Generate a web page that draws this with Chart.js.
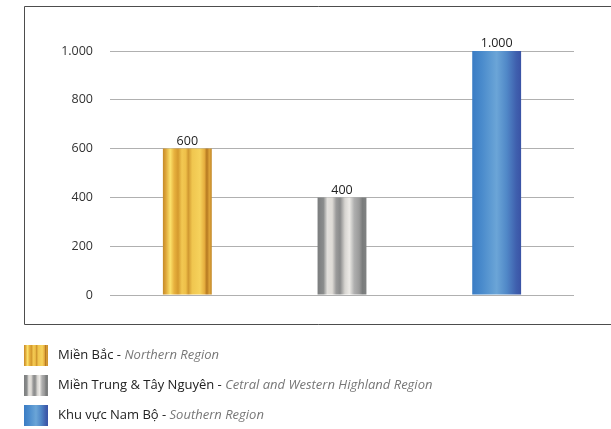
<!DOCTYPE html>
<html>
<head>
<meta charset="utf-8">
<script src="https://cdn.jsdelivr.net/npm/chart.js@4/dist/chart.umd.min.js"></script>
<style>
  html, body { margin: 0; padding: 0; background: #fff; }
  #wrap { position: relative; width: 611px; height: 429px; }
</style>
</head>
<body>
<div id="wrap"><canvas id="regionChart" width="611" height="429"></canvas></div>
<script>
// Dữ liệu theo vùng
const regions = ["Miền Bắc", "Miền Trung & Tây Nguyên", "Khu vực Nam Bộ"];
const regionsEn = ["Northern Region", "Cetral and Western Highland Region", "Southern Region"];
const values = [600, 400, 1000];
const yTicks = [0, 200, 400, 600, 800, 1000];

const FONT = "'Open Sans', sans-serif";

// Dải màu cho từng cột (vàng, bạc, xanh)
const gradientStops = [
  [[0, "#c48a28"], [0.06, "#dea63a"], [0.15, "#fbe26c"], [0.23, "#e8b23e"], [0.31, "#d49a2e"],
   [0.39, "#f2c852"], [0.47, "#eebf48"], [0.52, "#d09830"], [0.6, "#f0c64f"], [0.76, "#f6d25c"],
   [0.85, "#e6ae3e"], [0.9, "#b57820"], [0.95, "#dea43a"], [1, "#c28828"]],
  [[0, "#7b7d7e"], [0.12, "#8a8c8c"], [0.2, "#e2e0dc"], [0.3, "#dedbd6"], [0.38, "#9a9a9a"],
   [0.46, "#898a8a"], [0.56, "#d6d4d0"], [0.65, "#eceae6"], [0.75, "#afafaf"], [0.85, "#9a9a9a"],
   [0.92, "#7a7c7c"], [1, "#808282"]],
  [[0, "#3a7cc4"], [0.2, "#4a8bcc"], [0.5, "#6ba5d7"], [0.7, "#5189c8"], [0.9, "#3f60ae"], [1, "#3a53a5"]]
];

const BAR_PCT = 0.316;

function makeGradient(ctx, x0, x1, stops) {
  const g = ctx.createLinearGradient(x0, 0, x1, 0);
  stops.forEach(s => g.addColorStop(s[0], s[1]));
  return g;
}

function barFill(context) {
  const chart = context.chart;
  const i = context.dataIndex;
  const stops = gradientStops[i];
  if (!chart.chartArea || !chart.scales.x) return stops[0][1];
  const x = chart.scales.x;
  const cx = x.getPixelForValue(i);
  const w = (x.width / regions.length) * BAR_PCT;
  return makeGradient(chart.ctx, cx - w / 2, cx + w / 2, stops);
}

function fmt(v) {
  return v.toLocaleString("de-DE");
}

// Khung, nhãn giá trị và chú thích
const decorPlugin = {
  id: "decor",
  beforeDraw(chart) {
    const ctx = chart.ctx;
    ctx.save();
    ctx.strokeStyle = "#4d4d4d";
    ctx.lineWidth = 1;
    ctx.beginPath();
    ctx.moveTo(chart.width + 2, 6.5);
    ctx.lineTo(24.5, 6.5);
    ctx.lineTo(24.5, 324.5);
    ctx.lineTo(chart.width + 2, 324.5);
    ctx.stroke();
    ctx.restore();
  },
  afterDraw(chart) {
    const ctx = chart.ctx;
    ctx.save();
    // nhãn trên đầu cột
    const meta = chart.getDatasetMeta(0);
    ctx.font = "12.5px " + FONT;
    ctx.fillStyle = "#222";
    ctx.textAlign = "center";
    ctx.textBaseline = "bottom";
    meta.data.forEach((bar, i) => {
      ctx.fillText(fmt(values[i]), bar.x, bar.y - 1);
    });

    // chú thích
    ctx.textAlign = "left";
    ctx.textBaseline = "middle";
    regions.forEach((name, i) => {
      const cy = 355 + i * 30;
      ctx.fillStyle = makeGradient(ctx, 24, 48, gradientStops[i]);
      ctx.fillRect(24, cy - 10, 24, 21);
      ctx.font = "13px " + FONT;
      ctx.fillStyle = "#222";
      const head = name + " - ";
      ctx.fillText(head, 58, cy);
      const w = ctx.measureText(head).width;
      ctx.font = "italic 13px " + FONT;
      ctx.fillStyle = "#777";
      ctx.fillText(regionsEn[i], 58 + w, cy);
    });
    ctx.restore();
  }
};

new Chart(document.getElementById("regionChart"), {
  type: "bar",
  data: {
    labels: regions,
    datasets: [{
      data: values,
      backgroundColor: barFill,
      borderWidth: 0,
      barPercentage: BAR_PCT,
      categoryPercentage: 1
    }]
  },
  options: {
    responsive: false,
    animation: false,
    events: [],
    layout: { padding: { top: 51, right: 37, bottom: 134, left: 0 } },
    plugins: { legend: { display: false }, tooltip: { enabled: false } },
    scales: {
      x: { display: false },
      y: {
        z: 1,
        min: 0,
        max: 1000,
        afterFit(scale) { scale.width = 110; },
        afterBuildTicks(scale) { scale.ticks = yTicks.map(v => ({ value: v })); },
        border: { display: false },
        grid: { color: "#b0b0b0", lineWidth: 1, drawTicks: false },
        ticks: {
          padding: 17,
          color: "#333",
          font: { family: FONT, size: 12.5 },
          callback: v => fmt(v)
        }
      }
    }
  },
  plugins: [decorPlugin]
});
</script>
</body>
</html>
